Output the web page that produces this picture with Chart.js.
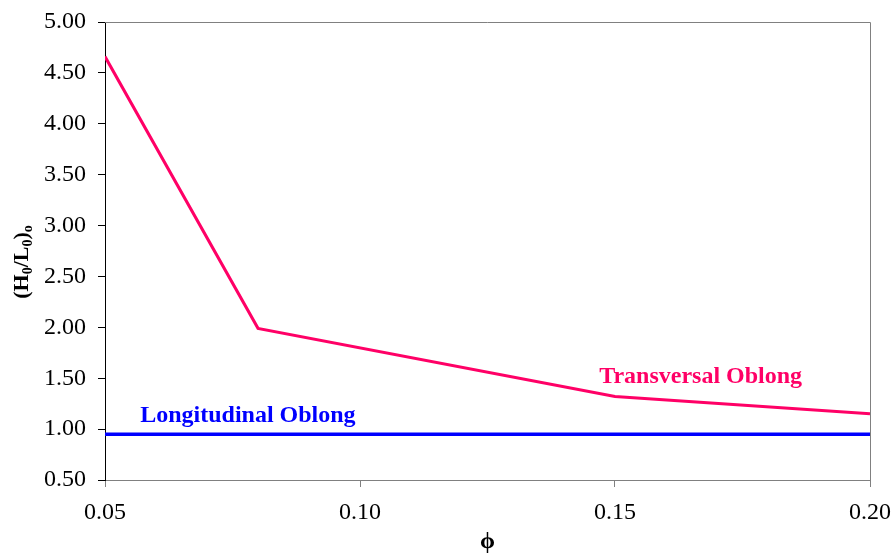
<!DOCTYPE html>
<html>
<head>
<meta charset="utf-8">
<script src="https://cdn.jsdelivr.net/npm/chart.js@4.4.0/dist/chart.umd.min.js"></script>
<style>
html,body{margin:0;padding:0;background:#fff;}
#wrap{width:893px;height:556px;position:relative;}
</style>
</head>
<body>
<div id="wrap"><canvas id="c" width="893" height="556"></canvas></div>
<script>
// ---- data ----
const phiTransversal = [0.05, 0.08, 0.15, 0.20];
const hlTransversal  = [4.66, 1.99, 1.32, 1.15];
const phiLongitudinal = [0.05, 0.20];
const hlLongitudinal  = [0.95, 0.95];
const xTicks = [0.05, 0.10, 0.15, 0.20];
const yTickMin = 0.5, yTickMax = 5.0, yTickStep = 0.5;
const seriesNames = ['Transversal Oblong', 'Longitudinal Oblong'];

const SERIF = '"Liberation Serif", "Times New Roman", serif';
const PINK = '#FF0066';
const BLUE = '#0000FF';

function pts(xs, ys){ return xs.map((x,i)=>({x:x, y:ys[i]})); }

const labelPlugin = {
  id: 'labels',
  afterDatasetsDraw(chart){
    const {ctx, scales:{x, y}, chartArea} = chart;
    ctx.save();
    // frame top/right
    ctx.strokeStyle = '#808080';
    ctx.lineWidth = 1;
    ctx.beginPath();
    ctx.moveTo(chartArea.left, chartArea.top + 0.5);
    ctx.lineTo(chartArea.right + 0.5, chartArea.top + 0.5);
    ctx.lineTo(chartArea.right + 0.5, chartArea.bottom);
    ctx.stroke();
    // series labels
    ctx.font = 'bold 24px ' + SERIF;
    ctx.textBaseline = 'alphabetic';
    ctx.textAlign = 'left';
    ctx.fillStyle = PINK;
    ctx.fillText(seriesNames[0], x.getPixelForValue(0.1469), y.getPixelForValue(1.453));
    ctx.fillStyle = BLUE;
    ctx.fillText(seriesNames[1], x.getPixelForValue(0.0569), y.getPixelForValue(1.07));
    ctx.restore();
  }
};

const yTitlePlugin = {
  id: 'ytitle',
  afterDraw(chart){
    const ctx = chart.ctx;
    const parts = [
      ['(H', false], ['0', true], ['/L', false], ['0', true], [')', false], ['o', true]
    ];
    const big = 'bold 22px ' + SERIF, small = 'bold 14px ' + SERIF;
    ctx.save();
    let total = 0;
    parts.forEach(p=>{ ctx.font = p[1]?small:big; total += ctx.measureText(p[0]).width; });
    ctx.translate(28, 262);
    ctx.rotate(-Math.PI/2);
    ctx.fillStyle = '#000';
    ctx.textBaseline = 'alphabetic';
    ctx.textAlign = 'left';
    let cx = -total/2;
    parts.forEach(p=>{
      ctx.font = p[1]?small:big;
      ctx.fillText(p[0], cx, p[1] ? 4 : 0);
      cx += ctx.measureText(p[0]).width;
    });
    ctx.restore();
  }
};

new Chart(document.getElementById('c'), {
  type: 'line',
  data: {
    datasets: [
      { label: seriesNames[0], data: pts(phiTransversal, hlTransversal), borderColor: PINK, borderWidth: 3, pointRadius: 0, fill: false, tension: 0 },
      { label: seriesNames[1], data: pts(phiLongitudinal, hlLongitudinal), borderColor: BLUE, borderWidth: 3.5, pointRadius: 0, fill: false, tension: 0 }
    ]
  },
  options: {
    responsive: false,
    animation: false,
    devicePixelRatio: 1,
    layout: { padding: { left: 0, top: 22, right: 23, bottom: 0 } },
    plugins: { legend: { display: false }, tooltip: { enabled: false } },
    scales: {
      x: {
        type: 'linear',
        min: 0.05, max: 0.20,
        afterBuildTicks(s){ s.ticks = xTicks.map(v=>({value:v})); },
        afterFit(s){ s.height = 76; s.paddingLeft = 0; s.paddingRight = 0; },
        ticks: {
          color: '#000', padding: 11, maxRotation: 0,
          font: { family: SERIF, size: 24 },
          callback: v => Number(v).toFixed(2)
        },
        grid: { drawOnChartArea: false, drawTicks: true, tickLength: 7, color: '#808080' },
        border: { display: true, color: '#808080', width: 1 },
        title: { display: true, text: 'ϕ', color: '#000', font: { family: SERIF, size: 24, weight: 'bold' }, padding: { top: 0, bottom: 0 } }
      },
      y: {
        min: yTickMin, max: yTickMax,
        ticks: {
          stepSize: yTickStep, color: '#000', padding: 12,
          font: { family: SERIF, size: 24 },
          callback: v => Number(v).toFixed(2)
        },
        afterFit(s){ s.width = 105; s.paddingTop = 0; s.paddingBottom = 0; },
        grid: { drawOnChartArea: false, drawTicks: true, tickLength: 7, color: '#000' },
        border: { display: true, color: '#000', width: 1 }
      }
    }
  },
  plugins: [labelPlugin, yTitlePlugin]
});
</script>
</body>
</html>
